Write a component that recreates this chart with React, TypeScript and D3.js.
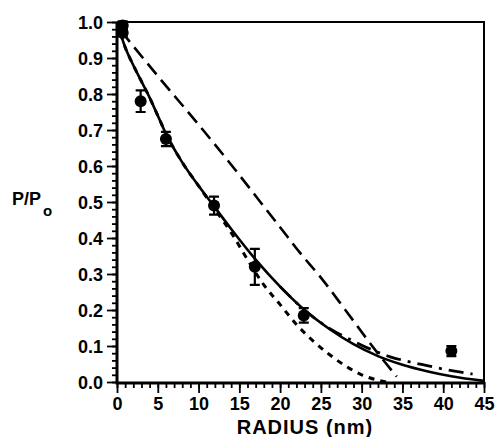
import React, { useEffect, useRef } from "react";
import * as d3 from "d3";

// measured points (radius nm, P/Po, error)
const pointRadius = [0.7, 0.7, 2.9, 6.0, 11.9, 16.9, 22.9, 41.0];
const pointValue = [0.99, 0.97, 0.78, 0.675, 0.49, 0.32, 0.185, 0.086];
const pointError = [0.012, 0.01, 0.03, 0.02, 0.025, 0.05, 0.02, 0.014];

// solid fit
const solidX = [0, 1, 2, 3, 4, 5, 6, 8, 10, 12, 14, 17, 20, 23, 26, 29, 32, 35, 38, 41, 45];
const solidY = [1.0, 0.93, 0.88, 0.835, 0.79, 0.74, 0.69, 0.61, 0.545, 0.485, 0.425, 0.34, 0.265, 0.2, 0.148, 0.105, 0.072, 0.048, 0.03, 0.016, 0.003];

// short-dash curve
const shortX = [0, 1, 2, 3, 4, 5, 6, 8, 10, 12, 14, 16, 18, 20, 22, 24, 26, 28, 30, 32, 33];
const shortY = [1.0, 0.93, 0.88, 0.835, 0.79, 0.74, 0.69, 0.61, 0.545, 0.48, 0.415, 0.34, 0.27, 0.215, 0.16, 0.115, 0.077, 0.045, 0.02, 0.005, 0.0];

// long-dash curve
const longX = [0.5, 1.6, 5, 10, 15, 17.1, 20, 22.4, 25, 28, 31.8, 34.3];
const longY = [0.975, 0.944, 0.85, 0.715, 0.575, 0.514, 0.43, 0.36, 0.29, 0.2, 0.085, 0.015];

// dash-dot curve
const dashDotX = [20, 23, 26.1, 28.6, 31, 33.5, 35.5, 37.5, 40, 42, 43.6];
const dashDotY = [0.265, 0.2, 0.148, 0.118, 0.092, 0.07, 0.058, 0.048, 0.036, 0.028, 0.022];

const xTicks = [0, 5, 10, 15, 20, 25, 30, 35, 40, 45];
const yTicks = [0, 0.1, 0.2, 0.3, 0.4, 0.5, 0.6, 0.7, 0.8, 0.9, 1.0];

const App = () => {
  const ref = useRef<SVGSVGElement>(null);

  useEffect(() => {
    const svg = d3.select(ref.current);
    svg.selectAll("*").remove();

    const left = 117, right = 484, top = 22, bottom = 382;
    const x = d3.scaleLinear().domain([0, 45]).range([left, right]);
    const y = d3.scaleLinear().domain([0, 1]).range([bottom, top]);
    const font = "'Liberation Sans', Arial, sans-serif";

    // frame
    svg.append("path")
      .attr("d", `M${left},${top}H${right}V${bottom}`)
      .attr("fill", "none").attr("stroke", "#000").attr("stroke-width", 2);

    // y axis: minor ticks then major ticks with labels
    const yMinor = svg.append("g").attr("transform", `translate(${left},0)`)
      .call(d3.axisLeft(y).tickValues(d3.range(0, 1.001, 0.02)).tickSize(5).tickFormat(() => ""));
    const yMajor = svg.append("g").attr("transform", `translate(${left},0)`)
      .call(d3.axisLeft(y).tickValues(yTicks).tickSize(10).tickFormat(d3.format(".1f")));
    [yMinor, yMajor].forEach(g => {
      g.select(".domain").remove();
      g.selectAll("line").attr("stroke", "#000").attr("stroke-width", 1.8);
    });
    yMajor.selectAll("text")
      .attr("font-family", font).attr("font-weight", "bold").attr("font-size", 18)
      .attr("fill", "#000").attr("x", -14).attr("dy", "0.36em");

    // x axis
    const xMinor = svg.append("g").attr("transform", `translate(0,${bottom})`)
      .call(d3.axisBottom(x).tickValues(d3.range(0, 46, 1)).tickSize(6).tickFormat(() => ""));
    const xMajor = svg.append("g").attr("transform", `translate(0,${bottom})`)
      .call(d3.axisBottom(x).tickValues(xTicks).tickSize(11).tickFormat(d3.format("d")));
    [xMinor, xMajor].forEach(g => {
      g.select(".domain").remove();
      g.selectAll("line").attr("stroke", "#000").attr("stroke-width", 1.8);
    });
    xMajor.selectAll("text")
      .attr("font-family", font).attr("font-weight", "bold").attr("font-size", 18)
      .attr("fill", "#000").attr("y", 28).attr("dy", 0);

    // axis lines
    svg.append("path")
      .attr("d", `M${left},${top}V${bottom + 1}H${right}`)
      .attr("fill", "none").attr("stroke", "#000").attr("stroke-width", 3);

    const line = d3.line<[number, number]>()
      .x(d => x(d[0])).y(d => y(d[1])).curve(d3.curveMonotoneX);

    const curve = (xs: number[], ys: number[], dash: string | null, w: number) => {
      const p = svg.append("path")
        .attr("d", line(xs.map((v, i) => [v, ys[i]] as [number, number])))
        .attr("fill", "none").attr("stroke", "#000").attr("stroke-width", w);
      if (dash) p.attr("stroke-dasharray", dash);
    };

    curve(longX, longY, "14,7", 2.6);
    curve(shortX, shortY, "6,6", 3);
    curve(dashDotX, dashDotY, "15,7,3,7", 2.8);
    curve(solidX, solidY, null, 2.6);

    // error bars + points
    const pts = svg.append("g");
    pointRadius.forEach((r, i) => {
      const cx = x(r);
      const y0 = y(pointValue[i] - pointError[i]);
      const y1 = y(pointValue[i] + pointError[i]);
      pts.append("path")
        .attr("d", `M${cx},${y0}V${y1}M${cx - 5},${y0}H${cx + 5}M${cx - 5},${y1}H${cx + 5}`)
        .attr("stroke", "#000").attr("stroke-width", 2.2).attr("fill", "none");
      pts.append("circle")
        .attr("cx", cx).attr("cy", y(pointValue[i])).attr("r", 6).attr("fill", "#000");
    });

    // labels
    svg.append("text")
      .attr("x", 305).attr("y", 434)
      .attr("text-anchor", "middle")
      .attr("font-family", font).attr("font-weight", "bold").attr("font-size", 20)
      .attr("letter-spacing", 1)
      .text("RADIUS (nm)");

    const yl = svg.append("text")
      .attr("x", 12).attr("y", 205)
      .attr("font-family", font).attr("font-weight", "bold").attr("font-size", 18);
    yl.append("tspan").text("P/P");
    yl.append("tspan").attr("dx", 2).attr("dy", 11).attr("font-size", 15).text("o");
  }, []);

  return (
    <svg
      ref={ref}
      width={498}
      height={437}
      style={{ position: "absolute", left: 0, top: 0, background: "#fff" }}
    />
  );
};

export default App;
